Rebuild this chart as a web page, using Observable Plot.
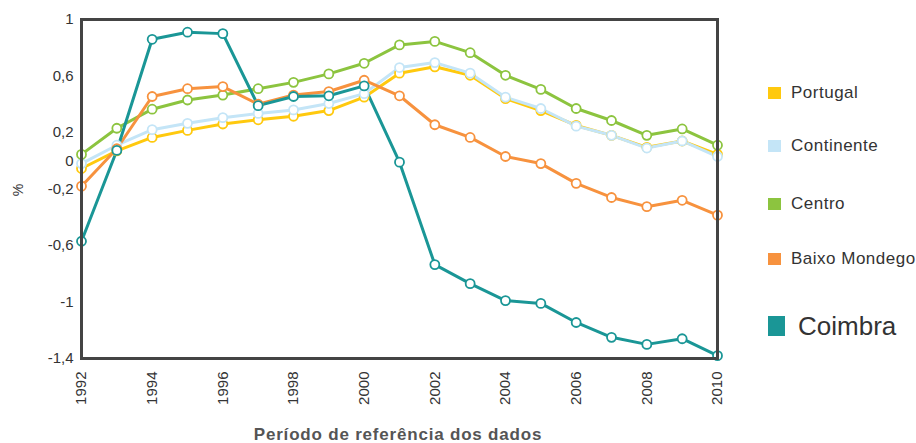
<!DOCTYPE html>
<html>
<head>
<meta charset="utf-8">
<script src="https://cdn.jsdelivr.net/npm/d3@7"></script>
<script src="https://cdn.jsdelivr.net/npm/@observablehq/plot@0.6"></script>
<style>
  html, body { margin: 0; padding: 0; background: #fff; }
  #wrap { position: relative; width: 916px; height: 443px; font-family: "Liberation Sans", Arial, sans-serif; }
  .leg { position: absolute; display: flex; align-items: center; color: #333; font-size: 17px; letter-spacing: 0.5px; }
  .leg span.sw { display: inline-block; width: 13px; height: 12px; margin-right: 10px; }
</style>
</head>
<body>
<div id="wrap"></div>
<script>
const years = [1992,1993,1994,1995,1996,1997,1998,1999,2000,2001,2002,2003,2004,2005,2006,2007,2008,2009,2010];
const seriesNames = ["Portugal","Continente","Centro","Baixo Mondego","Coimbra"];
const seriesColors = ["#FFC90E","#C4E5F7","#8CC43F","#F7923E","#1A9696"];
const portugal = [-0.055,0.07,0.165,0.215,0.26,0.29,0.315,0.355,0.45,0.62,0.665,0.605,0.44,0.355,0.25,0.18,0.095,0.14,0.045];
const continente = [-0.02,0.11,0.22,0.265,0.305,0.335,0.36,0.405,0.475,0.66,0.695,0.62,0.45,0.37,0.245,0.18,0.09,0.14,0.03];
const centro = [0.045,0.23,0.365,0.43,0.465,0.51,0.555,0.615,0.69,0.82,0.845,0.765,0.605,0.505,0.37,0.285,0.18,0.225,0.11];
const baixoMondego = [-0.18,0.085,0.455,0.51,0.525,0.40,0.465,0.49,0.57,0.46,0.255,0.165,0.03,-0.02,-0.16,-0.26,-0.325,-0.28,-0.385];
const coimbra = [-0.57,0.073,0.86,0.91,0.90,0.39,0.455,0.46,0.53,-0.01,-0.735,-0.87,-0.99,-1.01,-1.145,-1.25,-1.30,-1.26,-1.38];
const yTicks = [1,0.6,0.2,0,-0.2,-0.6,-1,-1.4];
const xTicks = [1992,1994,1996,1998,2000,2002,2004,2006,2008,2010];

const allSeries = [portugal, continente, centro, baixoMondego, coimbra];
const rows = [];
seriesNames.forEach((name, i) => {
  years.forEach((yr, j) => rows.push({series: name, year: yr, value: allSeries[i][j]}));
});

const marks = [
  Plot.axisY({ticks: yTicks, tickSize: 0, tickPadding: 8, fontSize: 15, label: null,
    tickFormat: d => String(d).replace(".", ","), color: "#333"}),
  Plot.axisX({ticks: xTicks, tickSize: 0, tickPadding: 13, fontSize: 15, tickRotate: -90, label: null,
    tickFormat: d => String(d), color: "#333"}),
];
seriesNames.forEach((name, i) => {
  const data = rows.filter(r => r.series === name);
  marks.push(Plot.line(data, {x: "year", y: "value", stroke: seriesColors[i], strokeWidth: 3}));
});
seriesNames.forEach((name, i) => {
  const data = rows.filter(r => r.series === name);
  marks.push(Plot.dot(data, {x: "year", y: "value", r: 4.5, fill: "white", stroke: seriesColors[i], strokeWidth: 1.8}));
});
marks.push(Plot.frame({stroke: "#444", strokeWidth: 3}));

const chart = Plot.plot({
  width: 916,
  height: 443,
  marginLeft: 81,
  marginRight: 199,
  marginTop: 19,
  marginBottom: 85,
  style: {fontFamily: "'Liberation Sans', Arial, sans-serif", background: "white"},
  x: {domain: [1992, 2010]},
  y: {domain: [-1.4, 1]},
  marks
});
const wrap = document.getElementById("wrap");
wrap.appendChild(chart);

// axis titles
const svg = d3.select(chart);
svg.append("text").attr("x", 398).attr("y", 440).attr("text-anchor", "middle")
  .attr("font-size", 17).attr("font-weight", "bold").attr("fill", "#555")
  .attr("letter-spacing", "0.8px")
  .text("Período de referência dos dados");
svg.append("text").attr("transform", "translate(23,190) rotate(-90)").attr("text-anchor", "middle")
  .attr("font-size", 14).attr("fill", "#333").text("%");

// legend
const legendY = [93, 146, 204, 259, 326];
seriesNames.forEach((name, i) => {
  const d = document.createElement("div");
  d.className = "leg";
  const big = name === "Coimbra";
  d.style.left = "768px";
  d.style.top = (legendY[i] - (big ? 15 : 10)) + "px";
  d.style.height = (big ? 30 : 20) + "px";
  if (big) { d.style.fontSize = "26px"; d.style.letterSpacing = "0px"; }
  const sw = document.createElement("span");
  sw.className = "sw";
  sw.style.background = seriesColors[i];
  if (big) { sw.style.width = "17px"; sw.style.height = "20px"; sw.style.marginRight = "13px"; }
  d.appendChild(sw);
  const t = document.createElement("span");
  t.textContent = name;
  d.appendChild(t);
  wrap.appendChild(d);
});
</script>
</body>
</html>
